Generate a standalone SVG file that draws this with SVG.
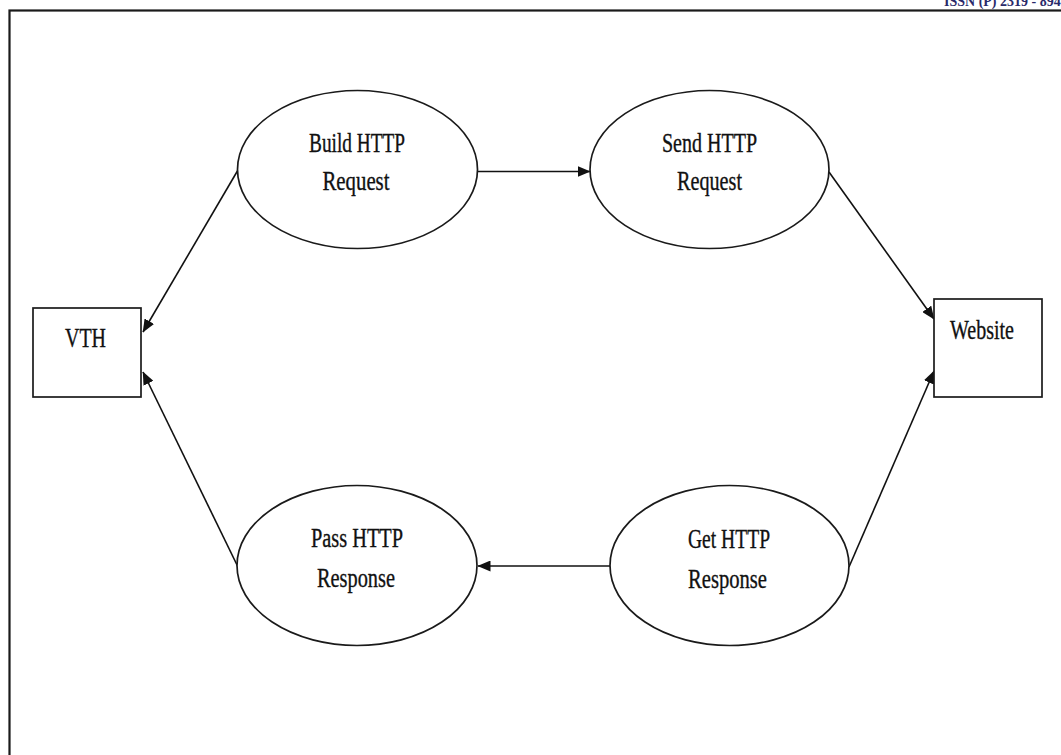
<svg xmlns="http://www.w3.org/2000/svg" width="1061" height="755" viewBox="0 0 1061 755">
  <style>
    .shape { fill: #ffffff; stroke: #1a1a1a; stroke-width: 1.7; }
    .label { font-family: "Liberation Serif", "Times New Roman", serif; font-size: 27px; fill: #111111; stroke: #111111; stroke-width: 0.35; text-anchor: middle; }
    .edge { stroke: #111111; stroke-width: 1.6; fill: none; marker-end: url(#arrow); }
    .header { font-family: "Liberation Serif", "Times New Roman", serif; font-size: 14px; font-weight: bold; fill: #2a2a6a; }
  </style>
  <defs>
    <marker id="arrow" viewBox="0 0 13 11" refX="12.5" refY="5.5" markerWidth="13" markerHeight="11" markerUnits="userSpaceOnUse" orient="auto">
      <path d="M0,0 L13,5.5 L0,11 Z" fill="#111111"/>
    </marker>
  </defs>

  <rect width="1061" height="755" fill="#ffffff"/>

  <!-- running header, clipped by the top edge -->
  <text class="header" x="944" y="6">ISSN (P) 2319 - 894</text>

  <!-- outer frame, open past the right and bottom edges -->
  <rect x="9.5" y="10.5" width="1100" height="800" fill="none" stroke="#1a1a1a" stroke-width="2.2"/>

  <g id="connectors">
    <line class="edge" x1="238" y1="170" x2="143" y2="332"/>
    <line class="edge" x1="238" y1="567" x2="143" y2="372"/>
    <line class="edge" x1="478" y1="171.5" x2="590" y2="171.5"/>
    <line class="edge" x1="829" y1="172" x2="934" y2="319"/>
    <line class="edge" x1="849" y1="567" x2="934" y2="371"/>
    <line class="edge" x1="610" y1="566" x2="478" y2="566"/>
  </g>

  <g id="vth">
    <rect class="shape" x="33" y="308" width="108" height="89"/>
    <text class="label" x="85.5" y="347" textLength="41" lengthAdjust="spacingAndGlyphs">VTH</text>
  </g>

  <g id="website">
    <rect class="shape" x="934" y="299" width="108" height="98"/>
    <text class="label" x="982" y="339" textLength="64" lengthAdjust="spacingAndGlyphs">Website</text>
  </g>

  <g id="build-request">
    <ellipse class="shape" cx="357.5" cy="169.5" rx="120" ry="79"/>
    <text class="label" x="357" y="152" textLength="96" lengthAdjust="spacingAndGlyphs">Build HTTP</text>
    <text class="label" x="356" y="190" textLength="67" lengthAdjust="spacingAndGlyphs">Request</text>
  </g>

  <g id="send-request">
    <ellipse class="shape" cx="709.5" cy="169.5" rx="119.5" ry="79"/>
    <text class="label" x="709.5" y="152" textLength="95" lengthAdjust="spacingAndGlyphs">Send HTTP</text>
    <text class="label" x="709.5" y="190" textLength="65" lengthAdjust="spacingAndGlyphs">Request</text>
  </g>

  <g id="pass-response">
    <ellipse class="shape" cx="357" cy="565.5" rx="120" ry="80"/>
    <text class="label" x="357" y="547" textLength="92" lengthAdjust="spacingAndGlyphs">Pass HTTP</text>
    <text class="label" x="356" y="587" textLength="78" lengthAdjust="spacingAndGlyphs">Response</text>
  </g>

  <g id="get-response">
    <ellipse class="shape" cx="729.5" cy="565.5" rx="119.5" ry="80"/>
    <text class="label" x="729" y="548" textLength="82" lengthAdjust="spacingAndGlyphs">Get HTTP</text>
    <text class="label" x="727.5" y="588" textLength="79" lengthAdjust="spacingAndGlyphs">Response</text>
  </g>
</svg>
